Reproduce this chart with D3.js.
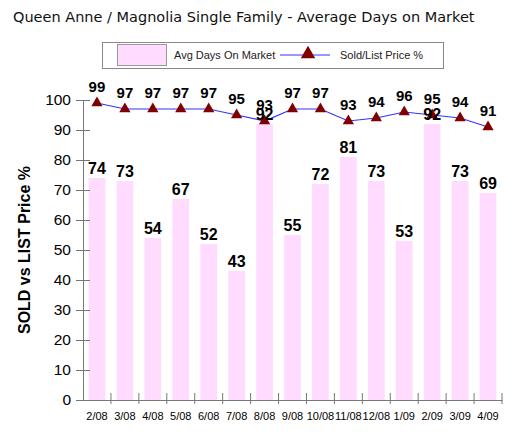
<!DOCTYPE html>
<html lang="en">
<head>
    <meta charset="UTF-8">
    <title>Queen Anne / Magnolia Single Family - Average Days on Market</title>
    <script src="https://d3js.org/d3.v7.min.js"></script>
    <style>
        body {
            margin: 0;
            padding: 0;
            background-color: #fff;
        }
        svg {
            display: block;
            background-color: #fff;
        }
        .title {
            font-family: 'DejaVu Sans', sans-serif;
            font-size: 14.5px;
            fill: #111;
        }
        .axis text {
            font-family: 'Liberation Sans', Arial, sans-serif;
            fill: #000;
        }
        .axis path, .axis line {
            stroke: #777;
        }
        .legend text {
            font-family: 'Liberation Sans', Arial, sans-serif;
            font-size: 11px;
            fill: #222;
        }
        .value {
            font-family: 'Liberation Sans', Arial, sans-serif;
            font-weight: bold;
            fill: #000;
            text-anchor: middle;
        }
    </style>
</head>
<body>
    <svg width="525" height="438"></svg>
    <script>
        const months = ["2/08", "3/08", "4/08", "5/08", "6/08", "7/08", "8/08", "9/08",
                        "10/08", "11/08", "12/08", "1/09", "2/09", "3/09", "4/09"];
        const avgDays = [74, 73, 54, 67, 52, 43, 92, 55, 72, 81, 73, 53, 92, 73, 69];
        const soldList = [99, 97, 97, 97, 97, 95, 93, 97, 97, 93, 94, 96, 95, 94, 91];
        const yTicks = [0, 10, 20, 30, 40, 50, 60, 70, 80, 90, 100];

        const width = 525, height = 438;
        const margin = { top: 100, right: 23, bottom: 38, left: 83 };
        const svg = d3.select("svg");

        const x = d3.scaleBand()
            .domain(months)
            .range([margin.left, width - margin.right])
            .padding(0);
        const y = d3.scaleLinear()
            .domain([0, 100])
            .range([height - margin.bottom, margin.top]);

        // title
        svg.append("text")
            .attr("class", "title")
            .attr("x", 13)
            .attr("y", 22)
            .text("Queen Anne / Magnolia Single Family - Average Days on Market");

        // legend
        const legend = svg.append("g").attr("class", "legend");
        legend.append("rect")
            .attr("x", 102.5).attr("y", 42.5)
            .attr("width", 341).attr("height", 26)
            .attr("fill", "#fff").attr("stroke", "#888");
        legend.append("rect")
            .attr("x", 117.5).attr("y", 44.5)
            .attr("width", 49).attr("height", 21)
            .attr("fill", "#ffdcff").attr("stroke", "#999");
        legend.append("text").attr("x", 174).attr("y", 59).text("Avg Days On Market");
        legend.append("line")
            .attr("x1", 280).attr("x2", 330).attr("y1", 55).attr("y2", 55)
            .attr("stroke", "#3333ff").attr("stroke-width", 1);
        legend.append("path")
            .attr("d", d3.symbol(d3.symbolTriangle, 90)())
            .attr("transform", "translate(308,54)")
            .attr("fill", "#800000");
        legend.append("text").attr("x", 340).attr("y", 59).text("Sold/List Price %");

        // bars
        const barW = x.bandwidth() * 0.6;
        svg.append("g").selectAll("rect")
            .data(avgDays)
            .join("rect")
            .attr("x", (d, i) => x(months[i]) + (x.bandwidth() - barW) / 2)
            .attr("y", d => y(d))
            .attr("width", barW)
            .attr("height", d => y(0) - y(d))
            .attr("fill", "#ffdcff");

        // y axis
        const yAxis = svg.append("g")
            .attr("class", "axis")
            .attr("transform", `translate(${margin.left},0)`)
            .call(d3.axisLeft(y).tickValues(yTicks).tickSize(7).tickPadding(5).tickSizeOuter(0));
        yAxis.selectAll(".tick line").attr("x1", 7);
        yAxis.selectAll(".tick text").attr("font-size", 15.5);

        // x axis
        const xAxis = svg.append("g")
            .attr("class", "axis")
            .attr("transform", `translate(0,${y(0)})`)
            .call(d3.axisBottom(x).tickSize(0).tickPadding(12).tickSizeOuter(0));
        xAxis.selectAll(".tick text").attr("font-size", 11);
        xAxis.selectAll(".sep")
            .data(months.slice(1).concat(["end"]))
            .join("line")
            .attr("class", "sep")
            .attr("x1", d => d === "end" ? x.range()[1] : x(d))
            .attr("x2", d => d === "end" ? x.range()[1] : x(d))
            .attr("y1", -7)
            .attr("y2", 4);

        // y axis title
        svg.append("text")
            .attr("transform", "translate(30,250) rotate(-90)")
            .attr("text-anchor", "middle")
            .attr("font-family", "'Liberation Sans', Arial, sans-serif")
            .attr("font-weight", "bold")
            .attr("font-size", 16)
            .text("SOLD vs LIST Price %");

        // line series
        const cx = i => x(months[i]) + x.bandwidth() / 2;
        svg.append("path")
            .datum(soldList)
            .attr("fill", "none")
            .attr("stroke", "#3333ff")
            .attr("stroke-width", 1.2)
            .attr("d", d3.line().x((d, i) => cx(i)).y(d => y(d)));

        svg.append("g").selectAll("path")
            .data(soldList)
            .join("path")
            .attr("d", d3.symbol(d3.symbolTriangle, 55)())
            .attr("transform", (d, i) => `translate(${cx(i)},${y(d)})`)
            .attr("fill", "#800000");

        // value labels
        svg.append("g").selectAll("text")
            .data(avgDays)
            .join("text")
            .attr("class", "value")
            .attr("font-size", 16)
            .attr("x", (d, i) => cx(i))
            .attr("y", d => y(d) - 4)
            .text(d => d);

        svg.append("g").selectAll("text")
            .data(soldList)
            .join("text")
            .attr("class", "value")
            .attr("font-size", 15)
            .attr("x", (d, i) => cx(i))
            .attr("y", d => y(d) - 11)
            .text(d => d);
    </script>
</body>
</html>
